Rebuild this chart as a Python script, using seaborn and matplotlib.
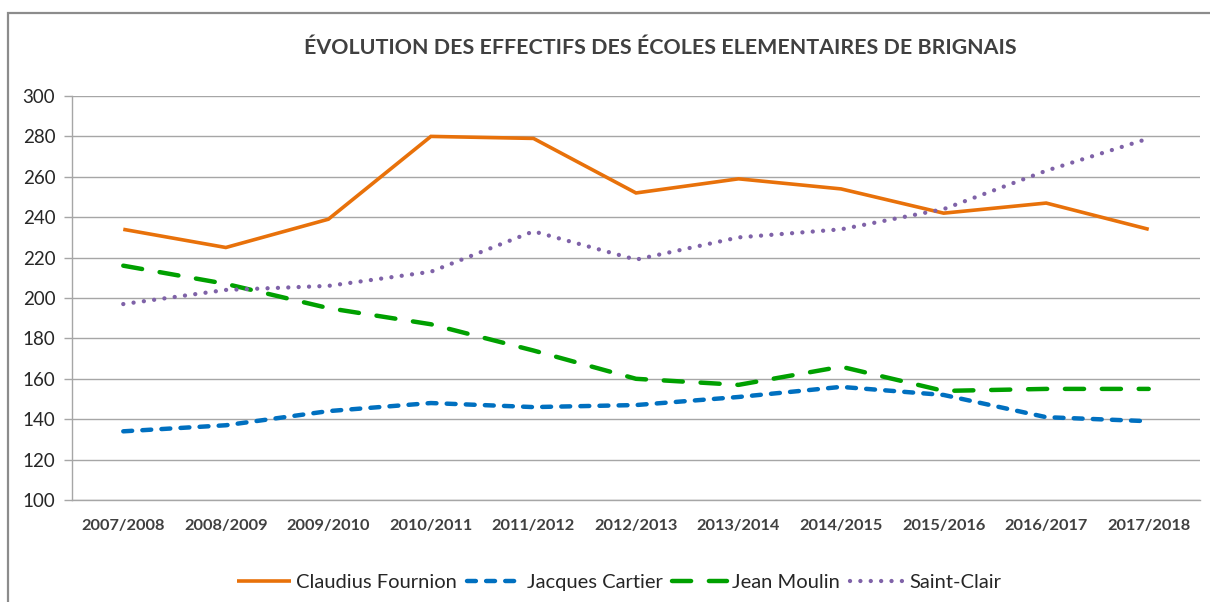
import numpy as np
import pandas as pd
import matplotlib.pyplot as plt
import seaborn as sns
from matplotlib.patches import Rectangle
from matplotlib.ticker import FixedLocator, MultipleLocator

years = ['2007/2008', '2008/2009', '2009/2010', '2010/2011', '2011/2012', '2012/2013',
         '2013/2014', '2014/2015', '2015/2016', '2016/2017', '2017/2018']
claudius = [234, 225, 239, 280, 279, 252, 259, 254, 242, 247, 234]
cartier = [134, 137, 144, 148, 146, 147, 151, 156, 152, 141, 139]
moulin = [216, 207, 195, 187, 174, 160, 157, 166, 154, 155, 155]
saint_clair = [197, 204, 206, 213, 233, 219, 230, 234, 244, 263, 279]

schools = ['Claudius Fournion', 'Jacques Cartier', 'Jean Moulin', 'Saint-Clair']
title = 'ÉVOLUTION DES EFFECTIFS DES ÉCOLES ELEMENTAIRES DE BRIGNAIS'

df = pd.DataFrame({'annee': years, schools[0]: claudius, schools[1]: cartier,
                   schools[2]: moulin, schools[3]: saint_clair})

sns.set_style('white')
plt.rcParams['font.family'] = ['Lato', 'DejaVu Sans']

fig = plt.figure(figsize=(12.1, 6.02), dpi=100)
ax = fig.add_axes([72 / 1210, 1 - 500 / 602, 1128 / 1210, 404 / 602])

styles = {
    'Claudius Fournion': dict(color='#E8710A', lw=2.6, ls='-'),
    'Jacques Cartier': dict(color='#0070C0', lw=3.2, ls=(0, (2.0, 2.3))),
    'Jean Moulin': dict(color='#00A000', lw=3.2, ls=(0, (4.3, 4.0))),
    'Saint-Clair': dict(color='#7F62A8', lw=3.1, ls=(0, (0.01, 2.4))),
}

for s in schools:
    st = styles[s]
    sns.lineplot(data=df, x='annee', y=s, ax=ax, color=st['color'], linewidth=st['lw'],
                 linestyle=st['ls'], label=s, sort=False)

for line in ax.get_lines():
    line.set_dash_capstyle('round')
    line.set_solid_capstyle('butt')
    line.set_solid_joinstyle('miter')

ax.set_xlim(-0.5, len(years) - 0.5)
ax.set_ylim(100, 300)
ax.yaxis.set_major_locator(MultipleLocator(20))
ax.xaxis.set_minor_locator(FixedLocator(np.arange(-0.5, len(years), 1.0)))
ax.grid(axis='y', color='#A6A6A6', linewidth=1.0)
ax.set_axisbelow(True)
for side in ['top', 'right']:
    ax.spines[side].set_visible(False)
for side in ['left', 'bottom']:
    ax.spines[side].set_color('#A6A6A6')
    ax.spines[side].set_linewidth(1.0)

ax.tick_params(axis='x', which='major', length=0, pad=14, labelsize=11.8, labelcolor='#404040')
ax.tick_params(axis='x', which='minor', length=6, color='#A6A6A6', width=1)
ax.tick_params(axis='y', length=6, color='#A6A6A6', width=1, labelsize=13.5,
               labelcolor='#262626', pad=6, left=True)
for lbl in ax.get_xticklabels():
    lbl.set_fontweight('bold')
ax.set_xlabel('')
ax.set_ylabel('')

fig.text(0.546, 1 - 48 / 602, title, ha='center', va='center', fontsize=15.4,
         color='#404040', fontweight='bold')

ax.legend(loc='center', bbox_to_anchor=(619 / 1210, 1 - 582 / 602), bbox_transform=fig.transFigure,
          ncol=4, frameon=False, fontsize=14.5, handlelength=2.7, handletextpad=0.25,
          columnspacing=0.5)

fig.add_artist(Rectangle((8 / 1210, -0.1), 1.2, 1.1 - 13 / 602, transform=fig.transFigure,
                         fill=False, edgecolor='#8C8C8C', linewidth=1.6))

fig.savefig('out.png', dpi=100)
